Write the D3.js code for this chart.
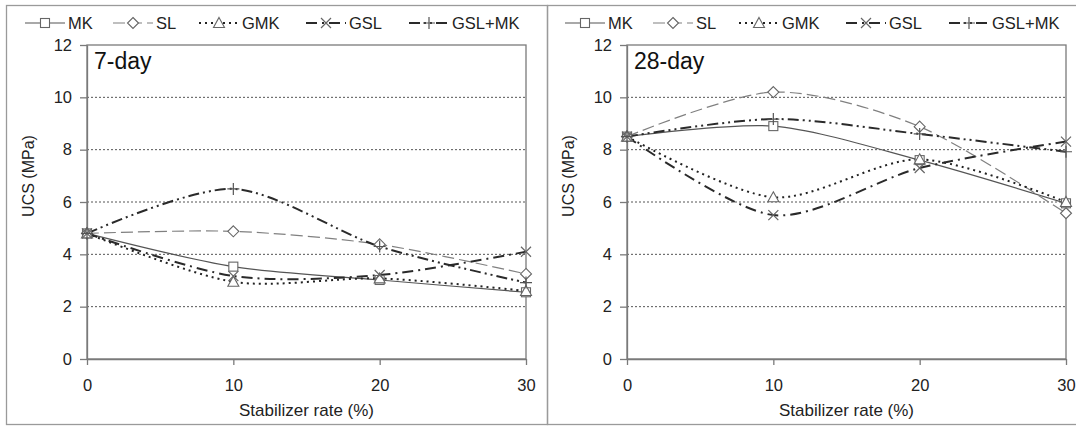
<!DOCTYPE html>
<html>
<head>
<meta charset="utf-8">
<script src="https://cdn.jsdelivr.net/npm/d3@7"></script>
<style>
  body { margin: 0; background: #fff; }
  svg { display: block; font-family: "Liberation Sans", Arial, sans-serif; }
  .axis text { font-size: 16.5px; fill: #222; }
  .axis path, .axis line { stroke: #7a7a7a; stroke-width: 1.3; }
</style>
</head>
<body>
<svg id="chart" width="1076" height="426"></svg>
<script>
// stabilizer rates and tick values
var rates = [0, 10, 20, 30];
var yTicks = [0, 2, 4, 6, 8, 10, 12];
var gridValues = [2, 4, 6, 8, 10];
var seriesNames = ["MK", "SL", "GMK", "GSL", "GSL+MK"];

// UCS (MPa), 7-day
var mk7 = [4.8, 3.53, 3.02, 2.55];
var sl7 = [4.8, 4.88, 4.38, 3.25];
var gmk7 = [4.8, 2.95, 3.08, 2.6];
var gsl7 = [4.8, 3.17, 3.21, 4.1];
var gslmk7 = [4.8, 6.5, 4.3, 2.92];

// UCS (MPa), 28-day
var mk28 = [8.5, 8.9, 7.6, 5.95];
var sl28 = [8.5, 10.2, 8.88, 5.57];
var gmk28 = [8.5, 6.18, 7.63, 6.0];
var gsl28 = [8.5, 5.5, 7.3, 8.31];
var gslmk28 = [8.5, 9.17, 8.6, 7.92];

var styles = {
    "MK":     {stroke: "#555", width: 1.2, dash: null, marker: "square"},
    "SL":     {stroke: "#808080", width: 1.2, dash: "12,5", marker: "diamond"},
    "GMK":    {stroke: "#222", width: 2, dash: "2,4", marker: "triangle"},
    "GSL":    {stroke: "#2a2a2a", width: 2, dash: "11,5,2,5", marker: "cross"},
    "GSL+MK": {stroke: "#2a2a2a", width: 2, dash: "11,4,2,4,2,4", marker: "plus"}
};

var svg = d3.select("#chart");

// panel frames
svg.append("rect")
    .attr("x", 6.5).attr("y", 5.5).attr("width", 541).attr("height", 419)
    .attr("fill", "none").attr("stroke", "#9a9a9a").attr("stroke-width", 1.3);
svg.append("rect")
    .attr("x", 547.5).attr("y", 5.5).attr("width", 540).attr("height", 419)
    .attr("fill", "none").attr("stroke", "#9a9a9a").attr("stroke-width", 1.3);

function drawMarker(g, type, cx, cy) {
    var s = 4.5;
    if (type == "square") {
        g.append("rect").attr("x", cx - s).attr("y", cy - s)
            .attr("width", 2 * s).attr("height", 2 * s)
            .attr("fill", "#fff").attr("stroke", "#666").attr("stroke-width", 1.1);
    } else if (type == "diamond") {
        g.append("path")
            .attr("d", "M" + cx + "," + (cy - 5.5) + "L" + (cx + 5.5) + "," + cy +
                       "L" + cx + "," + (cy + 5.5) + "L" + (cx - 5.5) + "," + cy + "Z")
            .attr("fill", "#fff").attr("stroke", "#666").attr("stroke-width", 1.1);
    } else if (type == "triangle") {
        g.append("path")
            .attr("d", "M" + cx + "," + (cy - 5.5) + "L" + (cx + 5.5) + "," + (cy + 4.5) +
                       "L" + (cx - 5.5) + "," + (cy + 4.5) + "Z")
            .attr("fill", "#fff").attr("stroke", "#666").attr("stroke-width", 1.1);
    } else if (type == "cross") {
        g.append("path")
            .attr("d", "M" + (cx - 5) + "," + (cy - 5) + "L" + (cx + 5) + "," + (cy + 5) +
                       "M" + (cx + 5) + "," + (cy - 5) + "L" + (cx - 5) + "," + (cy + 5))
            .attr("fill", "none").attr("stroke", "#666").attr("stroke-width", 1.2);
    } else {
        g.append("path")
            .attr("d", "M" + (cx - 6) + "," + cy + "L" + (cx + 6) + "," + cy +
                       "M" + cx + "," + (cy - 6) + "L" + cx + "," + (cy + 6))
            .attr("fill", "none").attr("stroke", "#555").attr("stroke-width", 1.2);
    }
}

function drawPanel(left, label, values) {
    var top = 45, width = 439, height = 314;

    var x = d3.scaleLinear().domain([0, 30]).range([left, left + width]),
        y = d3.scaleLinear().domain([0, 12]).range([top + height, top]);

    var g = svg.append("g");

    // legend
    var legendX = [left - 62, left + 26, left + 112, left + 219, left + 322];
    seriesNames.forEach(function(name, i) {
        var st = styles[name], lx = legendX[i], ly = 23;
        g.append("line")
            .attr("x1", lx).attr("x2", lx + 40).attr("y1", ly).attr("y2", ly)
            .attr("stroke", st.stroke).attr("stroke-width", st.width)
            .attr("stroke-dasharray", st.dash);
        drawMarker(g, st.marker, lx + 20, ly);
        g.append("text")
            .attr("x", lx + 43).attr("y", ly).attr("dy", ".35em")
            .style("font-size", "16.5px").style("fill", "#222")
            .text(name);
    });

    // gridlines
    g.selectAll(".grid")
        .data(gridValues)
        .enter().append("line")
        .attr("class", "grid")
        .attr("x1", x(0)).attr("x2", x(30))
        .attr("y1", function(d) { return y(d); })
        .attr("y2", function(d) { return y(d); })
        .attr("stroke", "#555").attr("stroke-width", 1)
        .attr("stroke-dasharray", "2,2");

    // plot frame
    g.append("rect")
        .attr("x", x(0)).attr("y", y(12))
        .attr("width", width).attr("height", height)
        .attr("fill", "none").attr("stroke", "#7a7a7a").attr("stroke-width", 1.3);

    g.append("g")
        .attr("class", "axis")
        .attr("transform", "translate(" + x(0) + ",0)")
        .call(d3.axisLeft(y).tickValues(yTicks).tickSize(7).tickSizeOuter(0).tickPadding(8));

    g.append("g")
        .attr("class", "axis")
        .attr("transform", "translate(0," + y(0) + ")")
        .call(d3.axisBottom(x).tickValues(rates).tickSize(6).tickSizeOuter(0).tickPadding(14));

    g.append("text")
        .attr("x", x(15)).attr("y", 416)
        .style("font-size", "17px").style("fill", "#222")
        .style("text-anchor", "middle")
        .text("Stabilizer rate (%)");

    g.append("text")
        .attr("transform", "translate(" + (left - 59) + ",176) rotate(-90)")
        .attr("dy", ".35em")
        .style("font-size", "16px").style("fill", "#222")
        .style("text-anchor", "middle")
        .text("UCS (MPa)");

    g.append("text")
        .attr("x", x(0) + 7).attr("y", 69)
        .style("font-size", "23px").style("fill", "#111")
        .text(label);

    var line = d3.line()
        .x(function(d, i) { return x(rates[i]); })
        .y(function(d) { return y(d); })
        .curve(d3.curveCardinal.tension(0.15));

    seriesNames.forEach(function(name, i) {
        var st = styles[name];
        g.append("path")
            .datum(values[i])
            .attr("fill", "none")
            .attr("stroke", st.stroke)
            .attr("stroke-width", st.width)
            .attr("stroke-dasharray", st.dash)
            .attr("d", line);
    });

    seriesNames.forEach(function(name, i) {
        values[i].forEach(function(v, j) {
            drawMarker(g, styles[name].marker, x(rates[j]), y(v));
        });
    });
}

drawPanel(87, "7-day", [mk7, sl7, gmk7, gsl7, gslmk7]);
drawPanel(627, "28-day", [mk28, sl28, gmk28, gsl28, gslmk28]);
</script>
</body>
</html>
